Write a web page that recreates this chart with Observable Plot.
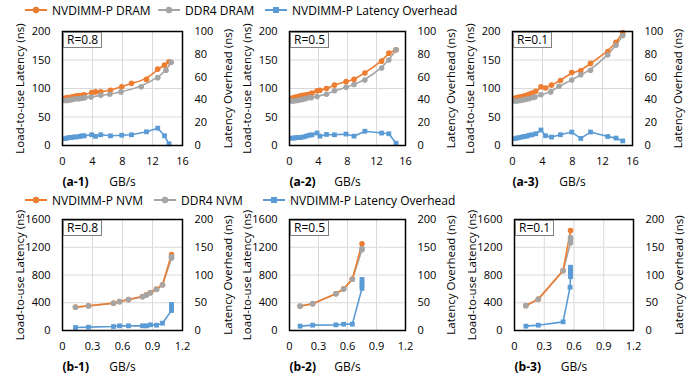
<!DOCTYPE html>
<html><head><meta charset="utf-8">
<script src="https://cdn.jsdelivr.net/npm/d3@7"></script>
<script src="https://cdn.jsdelivr.net/npm/@observablehq/plot@0.6"></script>
<style>
body{margin:0;background:#fff;}
#root{position:relative;width:694px;height:375px;overflow:hidden;font-family:"Open Sans",sans-serif;font-size:12px;color:#000;background:#fff;}
.rbox{position:absolute;border:1px solid #7f7f7f;background:#fff;font-size:12px;line-height:14px;padding:0 3px;white-space:nowrap;}
.leg{position:absolute;display:flex;align-items:center;white-space:nowrap;font-size:12px;height:14px;}
.leg svg{margin-right:5px;}
</style></head><body><div id="root"></div>
<script>
// ---------- data ----------
// Row a (DRAM), x in GB/s, latency in ns, overhead in ns
const a1NvBw  = [0.3,0.6,0.9,1.2,1.5,1.9,2.3,2.6,2.9,3.9,4.4,5.1,6.4,7.9,9.2,11.2,12.7,13.6,14.2];
const a1NvLat = [83,84,84,85,86,87,87,88,89,93,94,94,97,103,109,116,134,141,147];
const a1Ovh   = [6,6.5,7,7,7.5,7.5,8,8.5,8.5,9.4,8,9.4,8.5,9,9.4,12,15.2,8.5,1.5];
const a1DdBw  = [0.3,0.6,1.0,1.4,1.8,2.2,2.6,3.0,3.8,5.1,6.3,7.8,10.5,12.7,13.8,14.5];
const a1DdLat = [79,79,80,81,82,82,83,84,85,88,90,94,103,119,132,146];

const a2NvBw  = [0.3,0.6,0.9,1.2,1.5,1.9,2.3,2.7,3.1,3.8,4.2,5.1,6.2,7.8,8.9,10.4,12.7,13.7,14.7];
const a2NvLat = [83,84,85,86,87,88,89,90,92,96,97,100,106,112,116,127,148,162,168];
const a2Ovh   = [6.5,6.5,6.8,7,7,7.5,8.2,9,9.4,11,8.2,9.7,9.4,10,8.2,12.5,10.9,10.3,2];
const a2DdBw  = [0.3,0.6,1.0,1.4,1.8,2.2,2.7,3.0,3.8,5.1,6.2,7.8,8.9,10.4,12.7,13.7,14.7];
const a2DdLat = [78,78,79,80,81,82,84,84,86,90,96,102,107,115,136,150,168];

const a3NvBw  = [0.3,0.6,0.9,1.3,1.6,1.9,2.2,2.6,3.1,3.8,4.4,5.2,6.4,7.9,9.1,10.4,12.7,13.8,14.7];
const a3NvLat = [83,84,85,86,87,88,90,92,95,103,101,106,114,128,131,144,165,181,198];
const a3Ovh   = [6,6.5,7,7.5,8,8.2,9,9.4,10.3,13.6,8.6,7.4,9.5,11.8,6.2,11.8,7.9,6.5,4];
const a3DdBw  = [0.3,0.6,1.0,1.4,1.8,2.2,2.7,3.0,3.8,5.1,6.2,7.9,9.1,10.4,12.7,13.8,14.7];
const a3DdLat = [78,78,79,80,81,82,84,85,89,94,104,115,124,132,159,176,193];

// Row b (NVM)
const b1NvBw  = [0.13,0.26,0.51,0.57,0.66,0.80,0.84,0.88,0.94,1.00,1.09];
const b1NvLat = [337,356,394,418,447,490,514,548,596,659,1095];
const b1DdBw  = [0.13,0.26,0.51,0.57,0.66,0.80,0.84,0.88,0.94,1.00,1.09,1.09];
const b1DdLat = [335,354,392,416,445,487,511,545,592,655,1045,1065];
const b1OvBw  = [0.13,0.26,0.51,0.57,0.66,0.80,0.84,0.88,0.94,1.00,1.09,1.09,1.09,1.09];
const b1Ovh   = [5.4,6,7.2,8.4,8.4,8.4,8.4,10.2,9.6,13.2,36,40,44,47];

const b2NvBw  = [0.11,0.24,0.48,0.56,0.65,0.75];
const b2NvLat = [350,385,530,600,740,1250];
const b2DdBw  = [0.11,0.24,0.48,0.56,0.65,0.75,0.75];
const b2DdLat = [352,387,528,598,738,1165,1180];
const b2OvBw  = [0.11,0.24,0.48,0.56,0.65,0.75,0.75,0.75,0.75];
const b2Ovh   = [7.8,9.6,10.2,11.4,11.4,76,81,86,92];

const b3NvBw  = [0.115,0.24,0.49,0.565];
const b3NvLat = [360,452,865,1440];
const b3DdBw  = [0.115,0.24,0.49,0.565,0.565,0.565];
const b3DdLat = [358,450,862,1264,1308,1340];
const b3OvBw  = [0.115,0.24,0.49,0.56,0.565,0.565,0.565,0.565,0.565];
const b3Ovh   = [7.8,9.6,15.6,78,97,103,106,110,114];

const aXTicks = [0,4,8,12,16];
const bXTicks = [0,0.3,0.6,0.9,1.2];
const aYTicks = [0,50,100,150,200];
const bYTicks = [0,400,800,1200,1600];
const aRTicks = [0,20,40,60,80,100];
const bRTicks = [0,50,100,150,200];

const ORANGE = "#ed7d31", GRAY = "#a5a5a5", BLUE = "#5b9bd5";
const root = document.getElementById("root");

function zip(xs, ys, k = 1) { return xs.map((x, i) => ({x, y: ys[i] * k})); }

function panel(c) {
  const ml = 62, mr = 60;
  const factor = c.yDomain[1] / c.rTicks[c.rTicks.length - 1];
  const nv = zip(c.nvBw, c.nvLat), dd = zip(c.ddBw, c.ddLat), ov = zip(c.ovBw, c.ovh, factor);
  const curve = c.smooth ? "basis" : "linear";
  const chart = Plot.plot({
    width: ml + c.fw + mr, height: c.mt + c.fh + c.mb,
    marginLeft: ml, marginRight: mr, marginTop: c.mt, marginBottom: c.mb,
    style: {fontFamily: "Open Sans", fontSize: "11px", color: "#000", background: "transparent"},
    x: {domain: [c.xTicks[0], c.xTicks[c.xTicks.length - 1]]},
    y: {domain: c.yDomain},
    marks: [
      Plot.gridX(c.xTicks.slice(1, -1), {stroke: "#d9d9d9", strokeOpacity: 1}),
      Plot.gridY(c.yTicks.slice(1, -1), {stroke: "#d9d9d9", strokeOpacity: 1}),
      Plot.axisX(c.xTicks, {tickSize: 0, tickPadding: 12, tickFormat: d => String(d), label: null}),
      Plot.axisY(c.yTicks, {anchor: "left", tickSize: 0, tickPadding: 12, tickFormat: d => String(d), label: null}),
      Plot.axisY(c.rTicks.map(d => d * factor), {anchor: "right", tickSize: 0, tickPadding: 12, tickFormat: d => String(Math.round(d / factor)), label: null}),
      Plot.text(["Load-to-use Latency (ns)"], {frameAnchor: "left", text: d => d, rotate: -90, dx: -42, fontSize: 11.5, textAnchor: "middle", lineAnchor: "middle"}),
      Plot.text(["Latency Overhead (ns)"], {frameAnchor: "right", text: d => d, rotate: -90, dx: 46, fontSize: 11.5, textAnchor: "middle", lineAnchor: "middle"}),
      Plot.text(["GB/s"], {frameAnchor: "bottom", text: d => d, dy: 37, fontSize: 12, lineAnchor: "middle"}),
      Plot.line(dd, {x: "x", y: "y", stroke: GRAY, strokeWidth: 1.6, curve}),
      Plot.line(nv, {x: "x", y: "y", stroke: ORANGE, strokeWidth: 1.6, curve}),
      Plot.dot(nv, {x: "x", y: "y", fill: ORANGE, r: 2.8}),
      Plot.dot(dd, {x: "x", y: "y", fill: GRAY, r: 2.8}),
      Plot.line(ov, {x: "x", y: "y", stroke: BLUE, strokeWidth: 1.6}),
      Plot.dot(ov, {x: "x", y: "y", fill: BLUE, r: 2.7, symbol: "square"}),
      Plot.frame({stroke: "#000", strokeWidth: 1.5}),
      Plot.text([c.tag], {frameAnchor: "bottom-left", text: d => d, dy: 37, fontSize: 12, fontWeight: "bold", textAnchor: "start", lineAnchor: "middle"})
    ]
  });
  chart.style.position = "absolute";
  chart.style.left = (c.fl - ml) + "px";
  chart.style.top = (c.ft - c.mt) + "px";
  root.appendChild(chart);
  const r = document.createElement("div");
  r.className = "rbox";
  r.textContent = c.R;
  r.style.left = (c.fl + 1) + "px";
  r.style.top = (c.ft + 1) + "px";
  root.appendChild(r);
}

const rowA = {ft: 31, fh: 114, mt: 18, mb: 46, xTicks: aXTicks, yTicks: aYTicks, yDomain: [0, 200], rTicks: aRTicks, smooth: true};
const rowB = {ft: 219, fh: 111, mt: 18, mb: 44, xTicks: bXTicks, yTicks: bYTicks, yDomain: [0, 1600], rTicks: bRTicks, smooth: false};

panel({...rowA, fl: 62, fw: 120, tag: "(a-1)", R: "R=0.8", nvBw: a1NvBw, nvLat: a1NvLat, ddBw: a1DdBw, ddLat: a1DdLat, ovBw: a1NvBw, ovh: a1Ovh});
panel({...rowA, fl: 289, fw: 116, tag: "(a-2)", R: "R=0.5", nvBw: a2NvBw, nvLat: a2NvLat, ddBw: a2DdBw, ddLat: a2DdLat, ovBw: a2NvBw, ovh: a2Ovh});
panel({...rowA, fl: 512, fw: 120, tag: "(a-3)", R: "R=0.1", nvBw: a3NvBw, nvLat: a3NvLat, ddBw: a3DdBw, ddLat: a3DdLat, ovBw: a3NvBw, ovh: a3Ovh});
panel({...rowB, fl: 62, fw: 120, tag: "(b-1)", R: "R=0.8", nvBw: b1NvBw, nvLat: b1NvLat, ddBw: b1DdBw, ddLat: b1DdLat, ovBw: b1OvBw, ovh: b1Ovh});
panel({...rowB, fl: 289, fw: 116, tag: "(b-2)", R: "R=0.5", nvBw: b2NvBw, nvLat: b2NvLat, ddBw: b2DdBw, ddLat: b2DdLat, ovBw: b2OvBw, ovh: b2Ovh});
panel({...rowB, fl: 514, fw: 119, tag: "(b-3)", R: "R=0.1", nvBw: b3NvBw, nvLat: b3NvLat, ddBw: b3DdBw, ddLat: b3DdLat, ovBw: b3OvBw, ovh: b3Ovh});

// ---------- legends ----------
function icon(color, square) {
  const m = square ? `<rect x="8" y="4" width="6" height="6" fill="${color}"/>` : `<circle cx="11" cy="7" r="3.2" fill="${color}"/>`;
  return `<svg width="22" height="14"><line x1="0" y1="7" x2="22" y2="7" stroke="${color}" stroke-width="2"/>${m}</svg>`;
}
function legend(items, y) {
  for (const it of items) {
    const d = document.createElement("div");
    d.className = "leg";
    d.style.left = it.left + "px";
    d.style.top = (y - 7) + "px";
    d.innerHTML = icon(it.color, it.square) + `<span>${it.label}</span>`;
    root.appendChild(d);
  }
}
legend([
  {left: 25, color: ORANGE, label: "NVDIMM-P DRAM"},
  {left: 158, color: GRAY, label: "DDR4 DRAM"},
  {left: 265, color: BLUE, square: true, label: "NVDIMM-P Latency Overhead"}
], 10);
legend([
  {left: 25, color: ORANGE, label: "NVDIMM-P NVM"},
  {left: 154, color: GRAY, label: "DDR4 NVM"},
  {left: 263, color: BLUE, square: true, label: "NVDIMM-P Latency Overhead"}
], 200);
</script></body></html>
